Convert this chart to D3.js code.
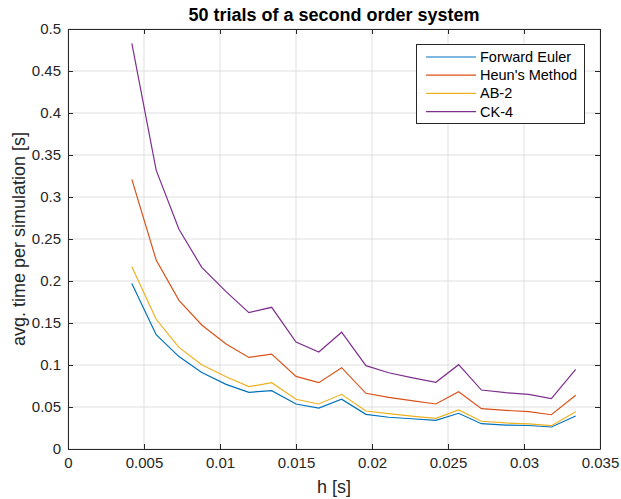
<!DOCTYPE html>
<html>
<head>
<meta charset="utf-8">
<script src="https://cdn.jsdelivr.net/npm/d3@7"></script>
<style>
  body { margin: 0; background: #fff; }
  svg { font-family: "Liberation Sans", Arial, sans-serif; }
</style>
</head>
<body>
<svg id="chart" width="621" height="499"></svg>
<script>
// step sizes h [s]
const hValues = [0.0042, 0.0058, 0.0073, 0.0088, 0.0104, 0.0119, 0.0134, 0.0150, 0.0165, 0.0180,
                 0.0196, 0.0211, 0.0226, 0.0242, 0.0257, 0.0272, 0.0288, 0.0303, 0.0318, 0.0334];

// avg. time per simulation [s]
const forwardEuler = [0.197, 0.136, 0.110, 0.091, 0.077, 0.0675, 0.0694, 0.0536, 0.0488, 0.0592,
                      0.0413, 0.0378, 0.0360, 0.0342, 0.0425, 0.0301, 0.0285, 0.0280, 0.0262, 0.0393];
const heun = [0.321, 0.225, 0.177, 0.1476, 0.125, 0.109, 0.113, 0.0865, 0.0790, 0.0968,
              0.0663, 0.0615, 0.0575, 0.0536, 0.0682, 0.0480, 0.0460, 0.0444, 0.0408, 0.0639];
const ab2 = [0.217, 0.1544, 0.121, 0.1004, 0.086, 0.0742, 0.079, 0.0592, 0.0536, 0.0651,
             0.0452, 0.0420, 0.0392, 0.0365, 0.0464, 0.0330, 0.0310, 0.0300, 0.0278, 0.0444];
const ck4 = [0.483, 0.332, 0.2615, 0.2163, 0.1873, 0.1623, 0.1687, 0.1274, 0.1155, 0.139,
             0.0992, 0.0908, 0.0850, 0.0794, 0.1004, 0.0702, 0.0670, 0.0650, 0.0599, 0.0949];

const seriesNames = ["Forward Euler", "Heun's Method", "AB-2", "CK-4"];
const seriesColors = ["#0072BD", "#D95319", "#EDB120", "#7E2F8E"];
const seriesData = [forwardEuler, heun, ab2, ck4];

const xTicks = [0, 0.005, 0.01, 0.015, 0.02, 0.025, 0.03, 0.035];
const yTicks = [0, 0.05, 0.1, 0.15, 0.2, 0.25, 0.3, 0.35, 0.4, 0.45, 0.5];

const svg = d3.select("#chart");
const margin = { top: 29, right: 21, bottom: 50, left: 68 };
const width = 621 - margin.left - margin.right;
const height = 499 - margin.top - margin.bottom;

const x = d3.scaleLinear().domain([0, 0.035]).range([0, width]);
const y = d3.scaleLinear().domain([0, 0.5]).range([height, 0]);

const g = svg.append("g").attr("transform", `translate(${margin.left},${margin.top})`);

// grid
g.append("g").selectAll("line").data(xTicks).enter().append("line")
  .attr("x1", d => x(d)).attr("x2", d => x(d)).attr("y1", 0).attr("y2", height)
  .attr("stroke", "#dfdfdf").attr("stroke-width", 1);
g.append("g").selectAll("line").data(yTicks).enter().append("line")
  .attr("y1", d => y(d)).attr("y2", d => y(d)).attr("x1", 0).attr("x2", width)
  .attr("stroke", "#dfdfdf").attr("stroke-width", 1);

// lines
const line = d3.line().x((d, i) => x(hValues[i])).y(d => y(d));
seriesData.forEach((s, k) => {
  g.append("path").datum(s)
    .attr("fill", "none")
    .attr("stroke", seriesColors[k])
    .attr("stroke-width", 1.2)
    .attr("d", line);
});

// axes (ticks inward, box on)
const fmt = d => d === 0 ? "0" : String(+d.toFixed(3));
const axisColor = "#262626";
function styleAxis(sel, hideText) {
  sel.select(".domain").attr("stroke", axisColor);
  sel.selectAll(".tick line").attr("stroke", axisColor);
  sel.selectAll(".tick text").attr("fill", axisColor).style("font-size", "15px");
  if (hideText) sel.selectAll(".tick text").remove();
}
g.append("g").attr("transform", `translate(0,${height})`)
  .call(d3.axisBottom(x).tickValues(xTicks).tickFormat(fmt).tickSizeInner(-5).tickSizeOuter(0).tickPadding(8))
  .call(s => styleAxis(s, false));
g.append("g")
  .call(d3.axisLeft(y).tickValues(yTicks).tickFormat(fmt).tickSizeInner(-5).tickSizeOuter(0).tickPadding(7))
  .call(s => styleAxis(s, false));
g.append("g")
  .call(d3.axisTop(x).tickValues(xTicks).tickSizeInner(-5).tickSizeOuter(0))
  .call(s => styleAxis(s, true));
g.append("g").attr("transform", `translate(${width},0)`)
  .call(d3.axisRight(y).tickValues(yTicks).tickSizeInner(-5).tickSizeOuter(0))
  .call(s => styleAxis(s, true));

// title and labels
svg.append("text").attr("x", margin.left + width / 2).attr("y", 21)
  .attr("text-anchor", "middle").style("font-size", "18px").style("font-weight", "bold")
  .attr("fill", "#000").text("50 trials of a second order system");
svg.append("text").attr("x", margin.left + width / 2).attr("y", 493)
  .attr("text-anchor", "middle").style("font-size", "18px").attr("fill", axisColor).text("h [s]");
svg.append("text")
  .attr("transform", `translate(25,${margin.top + height / 2}) rotate(-90)`)
  .attr("text-anchor", "middle").style("font-size", "18px").attr("fill", axisColor)
  .text("avg. time per simulation [s]");

// legend
const legend = svg.append("g").attr("transform", "translate(416.5,44.5)");
legend.append("rect").attr("width", 168).attr("height", 79)
  .attr("fill", "#fff").attr("stroke", axisColor).attr("stroke-width", 1);
seriesNames.forEach((name, k) => {
  const ly = 12.5 + k * 18.2;
  legend.append("line").attr("x1", 9.5).attr("x2", 59.5).attr("y1", ly).attr("y2", ly)
    .attr("stroke", seriesColors[k]).attr("stroke-width", 1.2);
  legend.append("text").attr("x", 63.5).attr("y", ly + 5)
    .style("font-size", "14.5px").attr("fill", "#000").text(name);
});
</script>
</body>
</html>
